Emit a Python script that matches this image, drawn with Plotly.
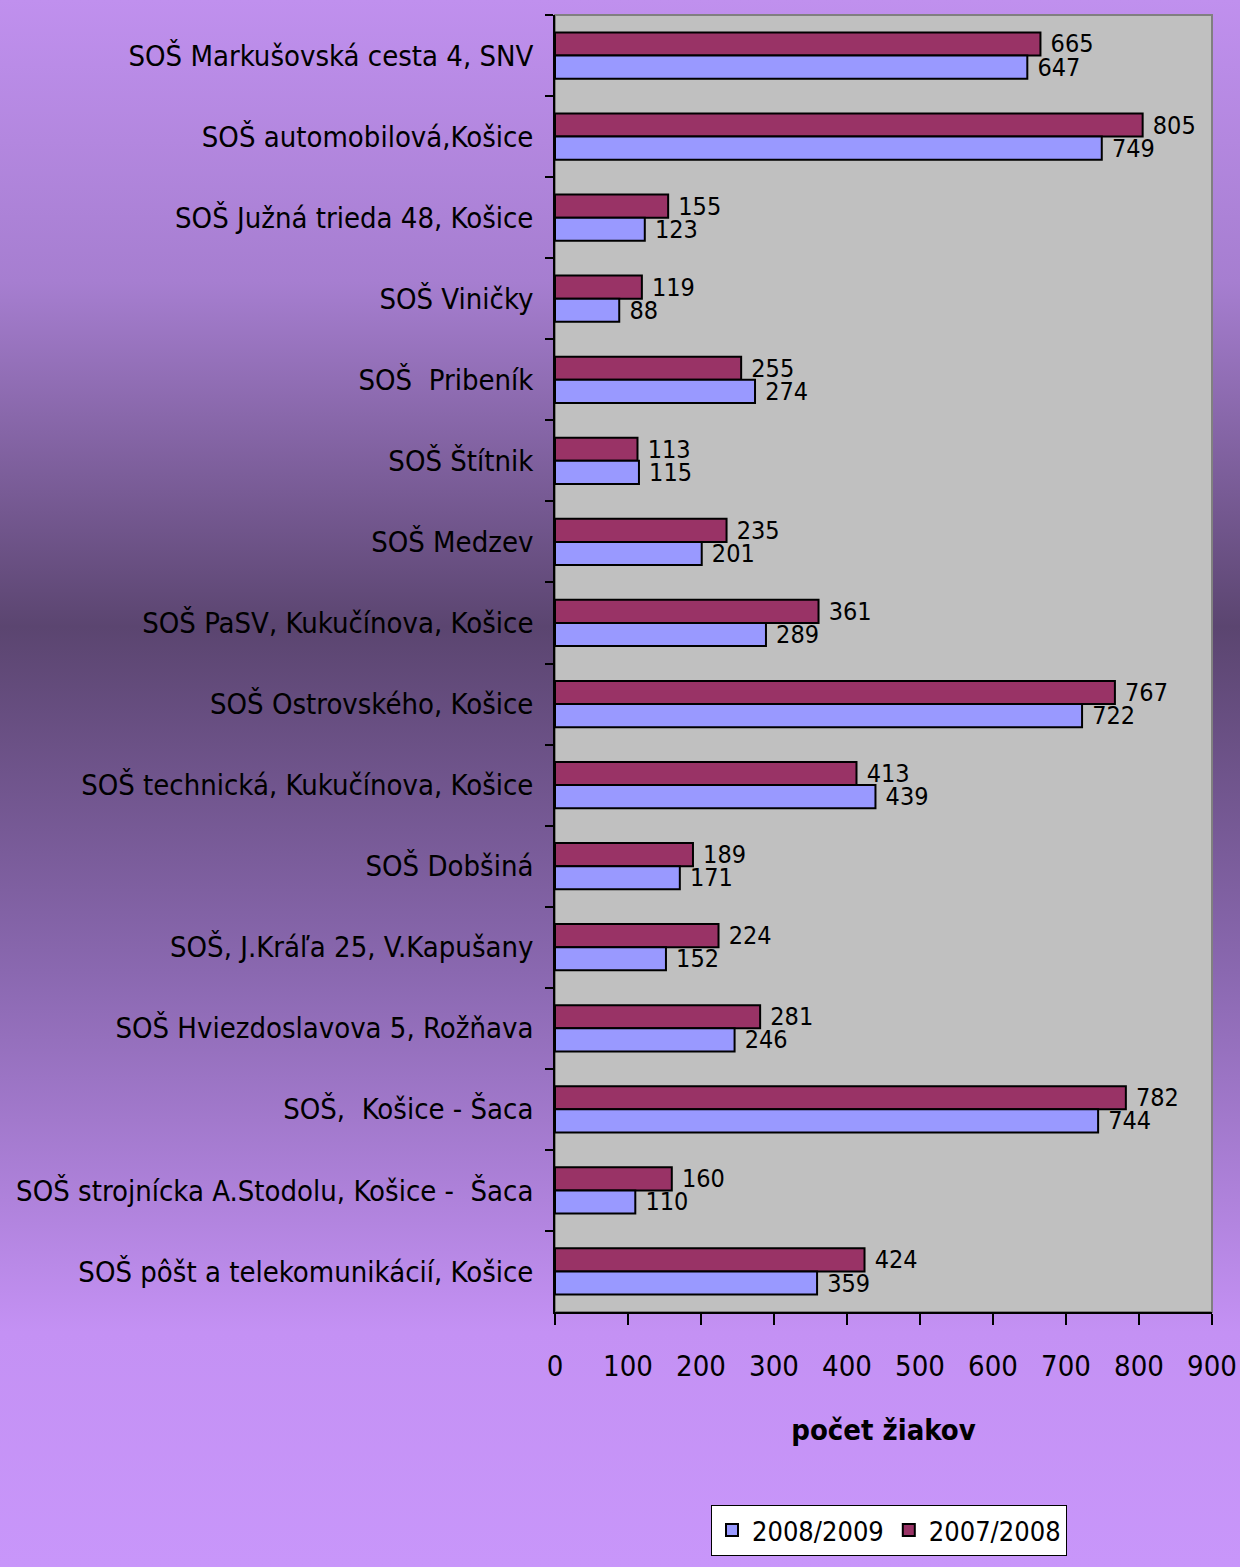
import plotly.graph_objects as go
import base64

categories = [
    "SOŠ Markušovská cesta 4, SNV",
    "SOŠ automobilová,Košice",
    "SOŠ Južná trieda 48, Košice",
    "SOŠ Viničky",
    "SOŠ\u00a0\u00a0Pribeník",
    "SOŠ Štítnik",
    "SOŠ Medzev",
    "SOŠ PaSV, Kukučínova, Košice",
    "SOŠ Ostrovského, Košice",
    "SOŠ technická, Kukučínova, Košice",
    "SOŠ Dobšiná",
    "SOŠ, J.Kráľa 25, V.Kapušany",
    "SOŠ Hviezdoslavova 5, Rožňava",
    "SOŠ,\u00a0\u00a0Košice - Šaca",
    "SOŠ strojnícka A.Stodolu, Košice -\u00a0\u00a0Šaca",
    "SOŠ pôšt a telekomunikácií, Košice",
]
values_2007_2008 = [665, 805, 155, 119, 255, 113, 235, 361, 767, 413, 189, 224, 281, 782, 160, 424]
values_2008_2009 = [647, 749, 123, 88, 274, 115, 201, 289, 722, 439, 171, 152, 246, 744, 110, 359]
x_ticks = [0, 100, 200, 300, 400, 500, 600, 700, 800, 900]

FONT = "Liberation Sans Narrow, Arial Narrow, DejaVu Sans Condensed, sans-serif"

W, H = 1240, 1567
ML, MR, MT, MB = 555, 28, 15, 255
pw, ph = W - ML - MR, H - MT - MB

svg = (
    '<svg xmlns="http://www.w3.org/2000/svg" width="100" height="100" preserveAspectRatio="none">'
    '<defs><linearGradient id="g" x1="0" y1="0" x2="0" y2="1">'
    '<stop offset="0" stop-color="#c090ee"/>'
    '<stop offset="0.18" stop-color="#a67ed0"/>'
    '<stop offset="0.40" stop-color="#5b4570"/>'
    '<stop offset="0.62" stop-color="#8a68b0"/>'
    '<stop offset="0.85" stop-color="#c491f4"/>'
    '<stop offset="1" stop-color="#c896fa"/>'
    '</linearGradient></defs>'
    '<rect width="100" height="100" fill="url(#g)"/></svg>'
)
src = "data:image/svg+xml;base64," + base64.b64encode(svg.encode()).decode()

fig = go.Figure()
fig.add_trace(go.Bar(
    name="2007/2008", y=categories, x=values_2007_2008, orientation="h",
    marker=dict(color="#993366", line=dict(color="black", width=2)),
    text=["\u00a0" + str(v) for v in values_2007_2008], textposition="outside",
    textfont=dict(family=FONT, size=25, color="black"), cliponaxis=False,
))
fig.add_trace(go.Bar(
    name="2008/2009", y=categories, x=values_2008_2009, orientation="h",
    marker=dict(color="#9999ff", line=dict(color="black", width=2)),
    text=["\u00a0" + str(v) for v in values_2008_2009], textposition="outside",
    textfont=dict(family=FONT, size=25, color="black"), cliponaxis=False,
))

fig.update_layout(
    width=W, height=H,
    margin=dict(l=ML, r=MR, t=MT, b=MB, autoexpand=False),
    paper_bgcolor="rgba(0,0,0,0)",
    plot_bgcolor="rgba(0,0,0,0)",
    barmode="group", bargap=0.43, bargroupgap=0.0,
    font=dict(family=FONT, size=28, color="black"),
    images=[dict(source=src, xref="paper", yref="paper",
                 x=-ML / pw, y=1 + MT / ph, sizex=W / pw, sizey=H / ph,
                 sizing="stretch", xanchor="left", yanchor="top", layer="below")],
    shapes=[dict(type="rect", xref="paper", yref="paper", x0=0, x1=1, y0=0, y1=1,
                 fillcolor="#c0c0c0", line=dict(color="#808080", width=2), layer="below")],
    xaxis=dict(range=[0, 900], tickvals=x_ticks, ticks="outside", ticklen=11,
               tickcolor="black", tickwidth=1.5, showline=True, linecolor="black", linewidth=1.5,
               showgrid=False, zeroline=False, ticklabelstandoff=16,
               tickfont=dict(family=FONT, size=29),
               title=dict(text="<b>počet žiakov</b>", font=dict(family=FONT, size=29), standoff=38)),
    yaxis=dict(autorange="reversed", type="category", ticks="outside", ticklen=8,
               tickson="boundaries", tickcolor="black", tickwidth=1.5,
               showline=True, linecolor="black", linewidth=1.5, showgrid=False,
               ticklabelstandoff=14, tickfont=dict(family=FONT, size=29)),
    legend=dict(orientation="h", traceorder="reversed", x=(711 - ML) / pw, xanchor="left",
                y=-(1505 - MT - ph) / ph, yanchor="top",
                bgcolor="white", bordercolor="black", borderwidth=1,
                font=dict(family=FONT, size=27), itemwidth=30),
    showlegend=True,
)
fig.update_traces(constraintext="none")

fig.write_html("out.html", config={"displayModeBar": False},
               post_script="document.body.style.margin='0';document.body.style.padding='0';")
